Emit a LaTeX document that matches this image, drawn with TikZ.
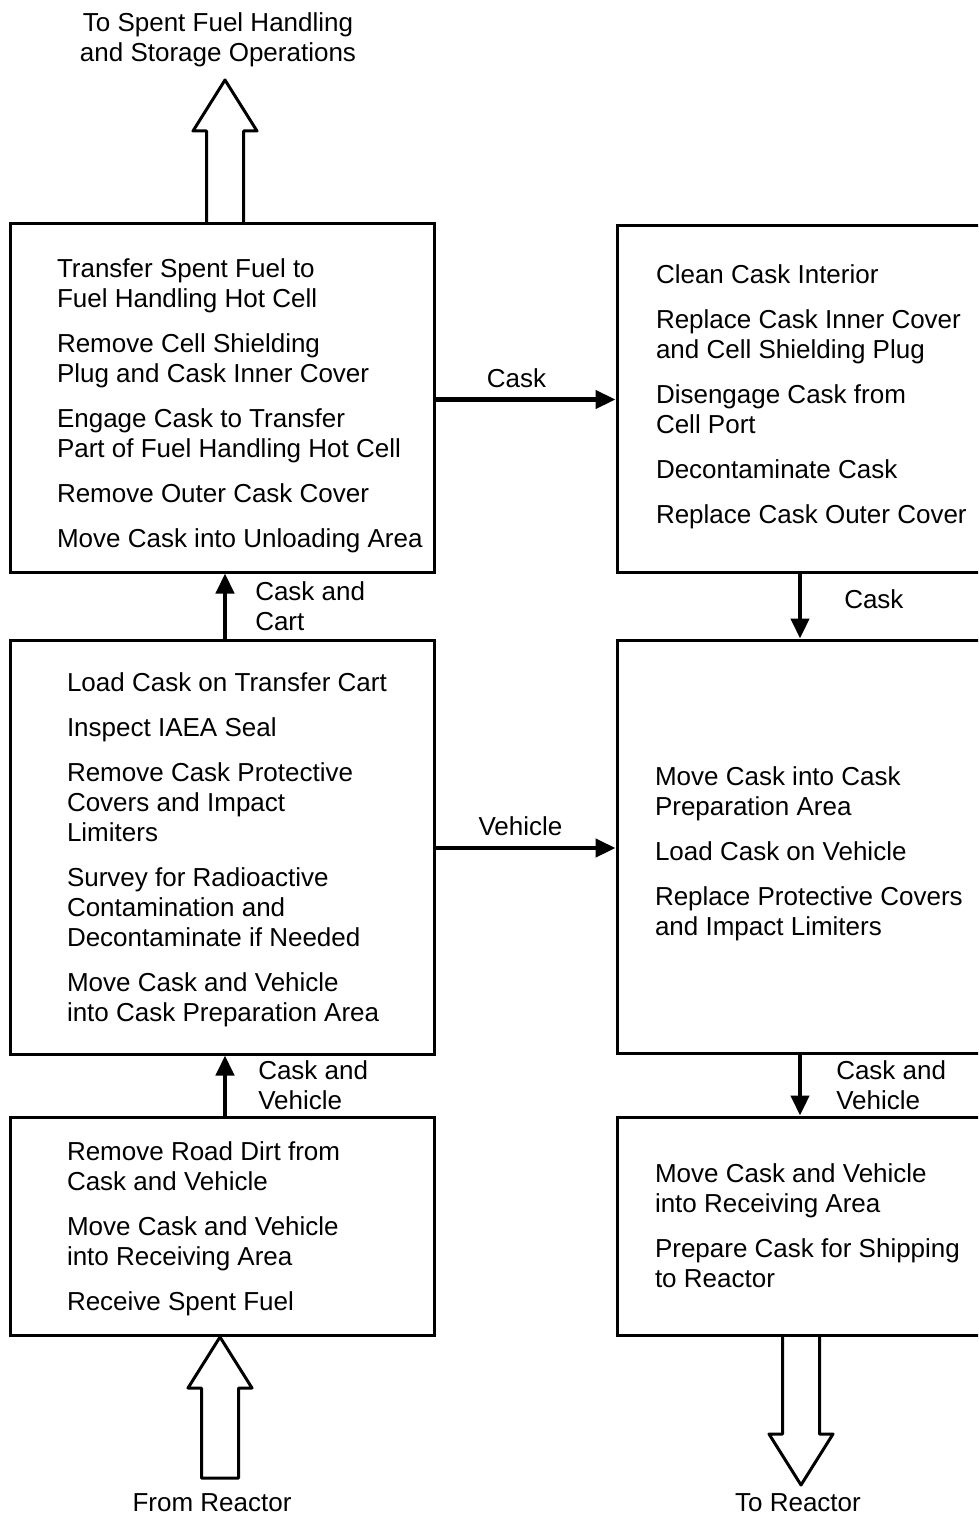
\documentclass[tikz,border=0pt]{standalone}
\usepackage{fontspec}
\setmainfont{Liberation Sans}
\usetikzlibrary{calc, arrows.meta}

\begin{document}
\begin{tikzpicture}[x = 1pt, y = -1pt, line width = 3pt,
		box/.style = {draw, inner sep = 0pt},
		steps/.style = {align = left, inner sep = 0pt, font = \fontsize{26}{30}\selectfont},
		flow/.style = {line width = 4.5pt, -{Triangle[length = 20pt, width = 18pt]}}]
	\def\sw{18.5};
	\def\hw{32};
	\def\hl{51};
	
	\path [use as bounding box, clip] (0,0) rectangle (978,1517);
	
	% left column
	\node [box, minimum width = 424pt, minimum height = 349pt] (unloading) at (222,397.5) {};
	\node [box, minimum width = 424pt, minimum height = 414pt] (preparation) at (222,847) {};
	\node [box, minimum width = 424pt, minimum height = 218pt] (receiving) at (222,1226) {};
	
	% right column
	\node [box, minimum width = 373pt, minimum height = 347pt] (cleaning) at (803.5,398.5) {};
	\node [box, minimum width = 373pt, minimum height = 413pt] (loading) at (803.5,846.5) {};
	\node [box, minimum width = 373pt, minimum height = 218pt] (shipping) at (803.5,1226) {};
	
	\node [steps, anchor = west] (unloading text) at ($ (unloading.west) + (47,8) $) {Transfer Spent Fuel to\\Fuel Handling Hot Cell\\[15pt]Remove Cell Shielding\\Plug and Cask Inner Cover\\[15pt]Engage Cask to Transfer\\Part of Fuel Handling Hot Cell\\[15pt]Remove Outer Cask Cover\\[15pt]Move Cask into Unloading Area};
	\node [steps, anchor = west] (preparation text) at ($ (preparation.west) + (57,3) $) {Load Cask on Transfer Cart\\[15pt]Inspect IAEA Seal\\[15pt]Remove Cask Protective\\Covers and Impact\\Limiters\\[15pt]Survey for Radioactive\\Contamination and\\Decontaminate if Needed\\[15pt]Move Cask and Vehicle\\into Cask Preparation Area};
	\node [steps, anchor = west] (receiving text) at ($ (receiving.west) + (57,3) $) {Remove Road Dirt from\\Cask and Vehicle\\[15pt]Move Cask and Vehicle\\into Receiving Area\\[15pt]Receive Spent Fuel};
	\node [steps, anchor = west] (cleaning text) at ($ (cleaning.west) + (39,-2) $) {Clean Cask Interior\\[15pt]Replace Cask Inner Cover\\and Cell Shielding Plug\\[15pt]Disengage Cask from\\Cell Port\\[15pt]Decontaminate Cask\\[15pt]Replace Cask Outer Cover};
	\node [steps, anchor = west] (loading text) at ($ (loading.west) + (38,7) $) {Move Cask into Cask\\Preparation Area\\[15pt]Load Cask on Vehicle\\[15pt]Replace Protective Covers\\and Impact Limiters};
	\node [steps, anchor = west] (shipping text) at ($ (shipping.west) + (38,0) $) {Move Cask and Vehicle\\into Receiving Area\\[15pt]Prepare Cask for Shipping\\to Reactor};
	
	% connectors between the boxes
	\draw [flow] ([xshift = 3pt]preparation.north) -- ([xshift = 3pt]unloading.south) node [steps, midway, right = 28pt] {Cask and\\Cart};
	\draw [flow] ([xshift = 3pt]receiving.north) -- ([xshift = 3pt]preparation.south) node [steps, midway, right = 31pt] {Cask and\\Vehicle};
	\draw [flow] ([xshift = -3.5pt]cleaning.south) -- ([xshift = -3.5pt]loading.north) node [steps, midway, right = 42pt, yshift = 7pt] {Cask};
	\draw [flow] ([xshift = -3.5pt]loading.south) -- ([xshift = -3.5pt]shipping.north) node [steps, midway, right = 34pt] {Cask and\\Vehicle};
	\draw [flow] ([yshift = -2pt]unloading.east) -- ([yshift = -2pt]unloading.east -| cleaning.west) node [steps, midway, above = 9pt, xshift = -9pt] {Cask};
	\draw [flow] ([yshift = -1pt]preparation.east) -- ([yshift = -1pt]preparation.east -| loading.west) node [steps, midway, above = 10pt, xshift = -5pt] {Vehicle};
	
	% hollow arrows in and out
	\draw [line join = round] (225-\sw,223) -- (225-\sw,80+\hl) -- (225-\hw,80+\hl) -- (225,80) -- (225+\hw,80+\hl) -- (225+\sw,80+\hl) -- (225+\sw,223);
	\draw [line join = round] (220,1337) -- (220-\hw,1337+\hl) -- (220-\sw,1337+\hl) -- (220-\sw,1478) -- (220+\sw,1478) -- (220+\sw,1337+\hl) -- (220+\hw,1337+\hl) -- cycle;
	\draw [line join = round] (801-\sw,1335) -- (801-\sw,1485-\hl) -- (801-\hw,1485-\hl) -- (801,1485) -- (801+\hw,1485-\hl) -- (801+\sw,1485-\hl) -- (801+\sw,1335);
	
	\node [steps, align = center] (storage label) at (218,40) {To Spent Fuel Handling\\and Storage Operations};
	\node [steps] (from reactor label) at (212,1503) {From Reactor};
	\node [steps] (to reactor label) at (798,1503) {To Reactor};
\end{tikzpicture}
\end{document}
